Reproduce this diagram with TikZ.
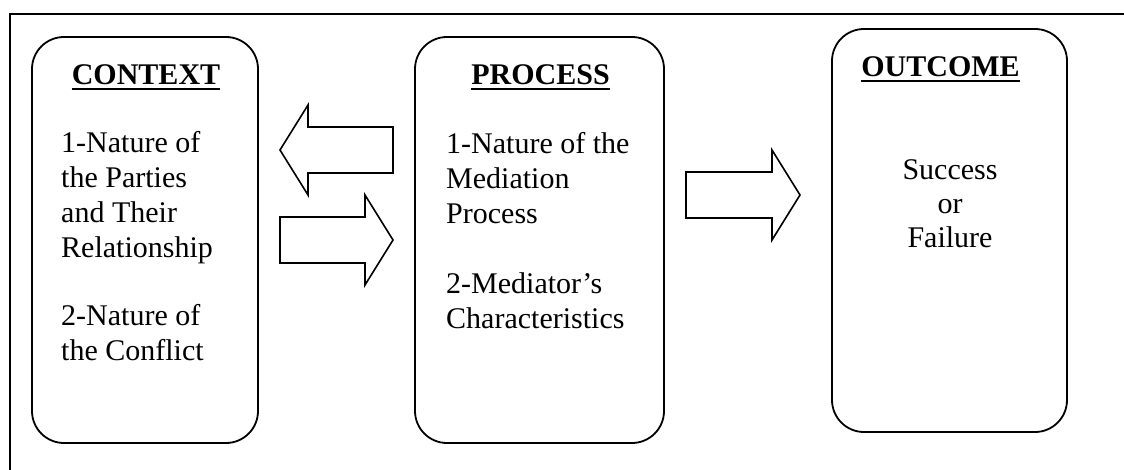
\documentclass[tikz,border=0pt]{standalone}
\usepackage{fontspec}
\setmainfont{Liberation Serif}
\begin{document}
\begin{tikzpicture}[x=1pt,y=-1pt,
  box/.style={draw,line width=1.8pt,rounded corners=32pt},
  blockarrow/.style={draw,line width=1.6pt,line join=miter},
  ttl/.style={inner sep=0pt,anchor=base,font=\fontsize{30}{35}\selectfont\bfseries},
  body/.style={inner sep=0pt,font=\fontsize{30}{35}\selectfont},
  uline/.style={line width=2pt}]
\useasboundingbox (0,0) rectangle (1124,470);
% frame
\draw[line width=2.2pt] (1124,14) -- (10,14) -- (10,470);
% boxes
\draw[box] (32,37) rectangle (258,443);
\draw[box] (415,37) rectangle (664,443);
\draw[box] (832,29) rectangle (1067,432);
% titles
\node[ttl] (ctx) at (146,85) {CONTEXT};
\draw[uline] ([yshift=-4pt]ctx.base west) -- ([yshift=-4pt]ctx.base east);
\node[ttl] (prc) at (540.5,85) {PROCESS};
\draw[uline] ([yshift=-4pt]prc.base west) -- ([yshift=-4pt]prc.base east);
\node[ttl] (out) at (940.5,77) {OUTCOME};
\draw[uline] ([yshift=-4pt]out.base west) -- ([yshift=-4pt]out.base east);
% texts (base anchor = last line)
\node[body,anchor=base west,align=left] (ctxt) at (61,360)
  {1-Nature of\\the Parties\\and Their\\Relationship\\[33pt]2-Nature of\\the Conflict};
\node[body,anchor=base west,align=left] (ptxt) at (446,328)
  {1-Nature of the\\Mediation\\Process\\[35pt]2-Mediator’s\\Characteristics};
\node[body,anchor=base,align=center,font=\fontsize{30}{34}\selectfont] (otxt) at (950,248)
  {Success\\or\\Failure};
% block arrows
\draw[blockarrow] (393,127) -- (308,127) -- (308,105) -- (280,150) -- (308,195) -- (308,173) -- (393,173) -- cycle;
\draw[blockarrow] (280,217) -- (365,217) -- (365,195) -- (393,240) -- (365,285) -- (365,263) -- (280,263) -- cycle;
\draw[blockarrow] (686,172) -- (772,172) -- (772,150) -- (800,195) -- (772,240) -- (772,218) -- (686,218) -- cycle;
\end{tikzpicture}
\end{document}
